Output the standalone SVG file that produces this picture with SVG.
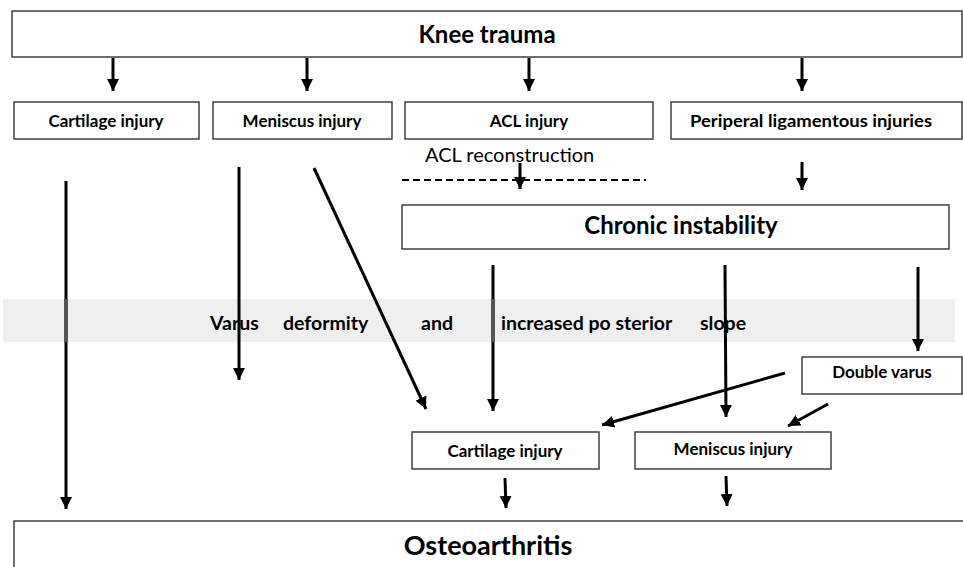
<svg xmlns="http://www.w3.org/2000/svg" width="963" height="567" viewBox="0 0 963 567">
<style>
.box{fill:#fff;stroke:#333;stroke-width:1.4}
.t{font-family:Lato,"Liberation Sans",sans-serif;font-weight:bold;fill:#000}
.s{font-size:17px}
.a{stroke:#000;stroke-width:3;fill:none;marker-end:url(#ah)}
.g{stroke:#555;stroke-width:4}
</style>
<defs>
<marker id="ah" markerUnits="userSpaceOnUse" markerWidth="14" markerHeight="14" viewBox="0 0 14 14" refX="12" refY="7" orient="auto">
<path d="M0,1 L12,7 L0,13 Z" fill="#000"/>
</marker>
</defs>
<rect x="3" y="299" width="952" height="43" fill="#efefef"/>
<g id="knee-trauma"><rect class="box" x="12" y="11" width="950" height="46"/><text class="t" x="487" y="43" font-size="24" text-anchor="middle">Knee trauma</text></g>
<g id="cartilage1"><rect class="box" x="14" y="102" width="185" height="37"/><text class="t s" x="106" y="127" text-anchor="middle">Cartilage injury</text></g>
<g id="meniscus1"><rect class="box" x="213" y="102" width="179" height="37"/><text class="t s" x="302" y="127" text-anchor="middle">Meniscus injury</text></g>
<g id="acl"><rect class="box" x="405" y="102" width="248" height="37"/><text class="t s" x="529" y="127" text-anchor="middle">ACL injury</text></g>
<g id="peripheral"><rect class="box" x="671" y="102" width="291" height="37"/><text class="t s" x="811" y="127" text-anchor="middle" textLength="242" lengthAdjust="spacingAndGlyphs">Periperal ligamentous injuries</text></g>
<g id="acl-reconstruction"><text x="425" y="162" font-family="Lato,'Liberation Sans',sans-serif" font-size="20" fill="#000">ACL reconstruction</text><line x1="402" y1="180" x2="646" y2="180" stroke="#000" stroke-width="2" stroke-dasharray="7,4"/></g>
<g id="chronic"><rect class="box" x="402" y="205" width="547" height="44"/><text class="t" x="681" y="234" font-size="24" text-anchor="middle">Chronic instability</text></g>
<g id="band-label" class="t" font-size="19.5"><text x="210" y="330">Varus</text><text x="283" y="330">deformity</text><text x="421" y="330">and</text><text x="501" y="330">increased po sterior</text><text x="700" y="330">slope</text></g>
<g id="double-varus"><rect class="box" x="802" y="357" width="160" height="37"/><text class="t s" x="882" y="378" text-anchor="middle">Double varus</text></g>
<g id="cartilage2"><rect class="box" x="412" y="432" width="187" height="37"/><text class="t s" x="505" y="457" text-anchor="middle">Cartilage injury</text></g>
<g id="meniscus2"><rect class="box" x="635" y="432" width="196" height="37"/><text class="t s" x="733" y="455" text-anchor="middle">Meniscus injury</text></g>
<g id="osteoarthritis"><rect class="box" x="14" y="521" width="960" height="60"/><text class="t" x="488" y="555" font-size="27" text-anchor="middle">Osteoarthritis</text></g>
<g id="connectors">
<line class="a" x1="113" y1="58" x2="113" y2="91"/>
<line class="a" x1="307" y1="58" x2="307" y2="91"/>
<line class="a" x1="529" y1="58" x2="529" y2="91"/>
<line class="a" x1="802" y1="58" x2="802" y2="91"/>
<line class="a" x1="520" y1="163" x2="520" y2="189"/>
<line class="a" x1="802" y1="162" x2="802" y2="190"/>
<line class="a" x1="66" y1="181" x2="66" y2="509"/>
<line class="g" x1="66" y1="299" x2="66" y2="342"/>
<line class="a" x1="239" y1="167" x2="239" y2="380"/>
<line class="a" x1="314" y1="168" x2="426" y2="409"/>
<line class="a" x1="493" y1="265" x2="493" y2="411"/>
<line class="g" x1="493" y1="299" x2="493" y2="342"/>
<line class="a" x1="725" y1="265" x2="726" y2="417"/>
<line class="a" x1="918" y1="267" x2="918" y2="351"/>
<line class="a" x1="785" y1="373" x2="602" y2="425"/>
<line class="a" x1="828" y1="404" x2="788" y2="426"/>
<line class="a" x1="505" y1="478" x2="506" y2="508"/>
<line class="a" x1="726" y1="476" x2="727" y2="506"/>
</g>
</svg>
